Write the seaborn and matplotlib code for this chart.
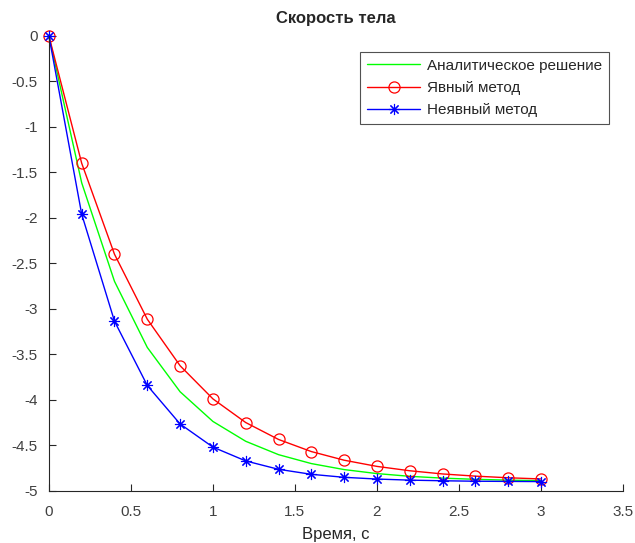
import matplotlib
matplotlib.use("Agg")
import matplotlib.pyplot as plt
import seaborn as sns
import pandas as pd

# время, с (шаг 0.2)
t = [0.0, 0.2, 0.4, 0.6, 0.8, 1.0, 1.2, 1.4, 1.6, 1.8, 2.0, 2.2, 2.4, 2.6, 2.8, 3.0]
# аналитическое решение
v_exact = [0.0, -1.615, -2.698, -3.424, -3.911, -4.237, -4.455, -4.602, -4.700,
           -4.766, -4.810, -4.840, -4.860, -4.873, -4.882, -4.888]
# явный метод
v_explicit = [0.0, -1.400, -2.400, -3.114, -3.625, -3.989, -4.249, -4.435, -4.568,
              -4.663, -4.731, -4.779, -4.814, -4.838, -4.856, -4.869]
# неявный метод
v_implicit = [0.0, -1.960, -3.136, -3.842, -4.265, -4.519, -4.671, -4.763, -4.818,
              -4.851, -4.870, -4.882, -4.889, -4.894, -4.896, -4.898]

df = pd.DataFrame({"t": t, "exact": v_exact, "expl": v_explicit, "impl": v_implicit})

sns.set_style("ticks")
plt.rcParams["font.family"] = ["Liberation Sans", "DejaVu Sans"]

fig = plt.figure(figsize=(6.35, 5.43), dpi=100)
ax = fig.add_axes([0.077, 0.096, 0.904, 0.838])

sns.lineplot(data=df, x="t", y="exact", color="#00ff00", lw=1,
             label="Аналитическое решение", ax=ax)
sns.lineplot(data=df, x="t", y="expl", color="red", lw=1, marker="o",
             markersize=8, markerfacecolor="none", markeredgecolor="red",
             markeredgewidth=0.9, label="Явный метод", ax=ax, clip_on=False)
sns.lineplot(data=df, x="t", y="impl", color="blue", lw=1, marker=(8, 2, 0),
             markersize=8, markeredgecolor="blue", markeredgewidth=0.8,
             label="Неявный метод", ax=ax, clip_on=False)

ax.set_xlim(0, 3.5)
ax.set_ylim(-5, 0)
ax.set_xticks([0, 0.5, 1, 1.5, 2, 2.5, 3, 3.5])
ax.set_xticklabels(["0", "0.5", "1", "1.5", "2", "2.5", "3", "3.5"])
ax.set_yticks([0, -0.5, -1, -1.5, -2, -2.5, -3, -3.5, -4, -4.5, -5])
ax.set_yticklabels(["0", "-0.5", "-1", "-1.5", "-2", "-2.5", "-3", "-3.5", "-4", "-4.5", "-5"])
ax.tick_params(direction="in", length=5, width=0.8, labelsize=11,
               colors="#262626", labelcolor="#404040")
ax.tick_params(axis="x", pad=10)
ax.tick_params(axis="y", pad=8)
for s in ["top", "right"]:
    ax.spines[s].set_visible(False)
for s in ["left", "bottom"]:
    ax.spines[s].set_color("#262626")
    ax.spines[s].set_linewidth(0.8)

ax.set_title("Скорость тела", fontsize=12, fontweight="bold", pad=9)
ax.set_xlabel("Время, с", fontsize=12, color="#262626", labelpad=6)
ax.set_ylabel("")

leg = ax.legend(loc="upper right", bbox_to_anchor=(0.975, 0.965), fontsize=11,
                frameon=True, fancybox=False, edgecolor="#262626",
                borderpad=0.45, labelspacing=0.55, handlelength=3.5,
                handletextpad=0.4, borderaxespad=0)
leg.get_frame().set_linewidth(0.8)

fig.savefig("out.png", dpi=100)
